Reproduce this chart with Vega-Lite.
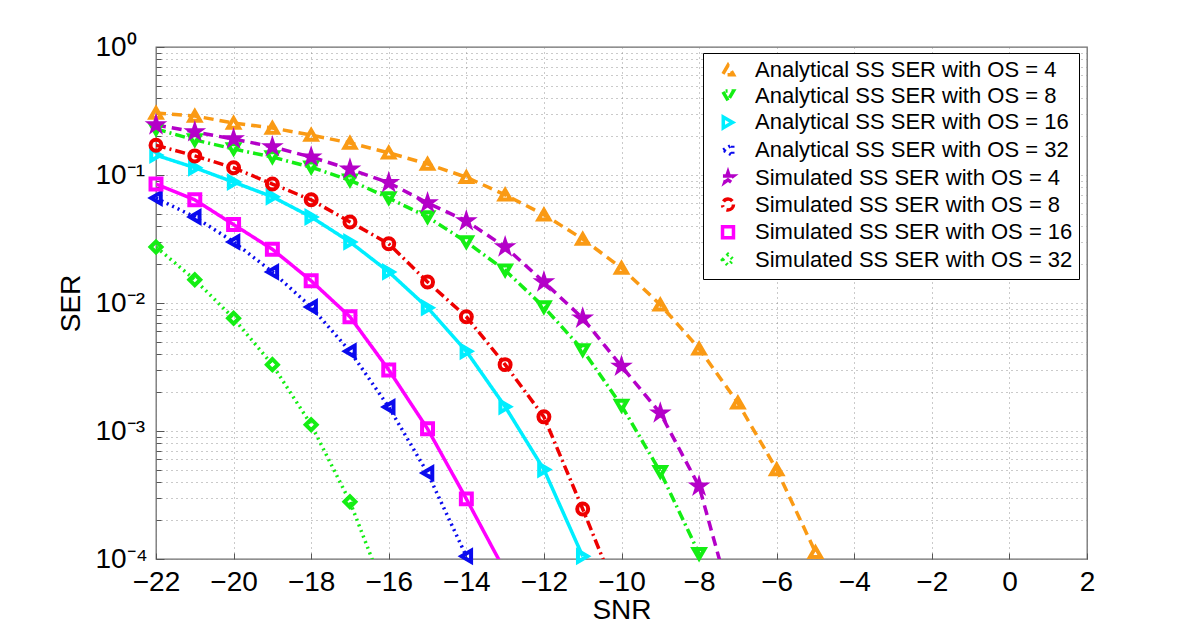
{
  "$schema": "https://vega.github.io/schema/vega-lite/v6.json",
  "width": 931,
  "height": 512,
  "autosize": {"type": "none"},
  "padding": {"left": 156, "top": 47, "right": 113, "bottom": 71},
  "background": "white",
  "config": {
    "font": "Liberation Sans",
    "view": {"stroke": "#6e6e6e", "strokeWidth": 1.3},
    "axis": {
      "labelFont": "Liberation Sans",
      "titleFont": "Liberation Sans",
      "labelColor": "black",
      "titleColor": "black",
      "labelFontSize": 28,
      "titleFontSize": 28,
      "titleFontWeight": "normal",
      "domain": false,
      "grid": true,
      "gridColor": "#8a8a8a",
      "gridDash": [1, 4],
      "gridWidth": 1,
      "gridOpacity": 0.9,
      "tickColor": "#555",
      "labelFlush": false,
      "labelOverlap": false
    }
  },
  "data": {
    "values": [
      {"series": "Analytical SS SER with OS = 4", "snr": -22, "ser": 0.305},
      {"series": "Analytical SS SER with OS = 4", "snr": -21, "ser": 0.289},
      {"series": "Analytical SS SER with OS = 4", "snr": -20, "ser": 0.255},
      {"series": "Analytical SS SER with OS = 4", "snr": -19, "ser": 0.233},
      {"series": "Analytical SS SER with OS = 4", "snr": -18, "ser": 0.205},
      {"series": "Analytical SS SER with OS = 4", "snr": -17, "ser": 0.178},
      {"series": "Analytical SS SER with OS = 4", "snr": -16, "ser": 0.149},
      {"series": "Analytical SS SER with OS = 4", "snr": -15, "ser": 0.122},
      {"series": "Analytical SS SER with OS = 4", "snr": -14, "ser": 0.096},
      {"series": "Analytical SS SER with OS = 4", "snr": -13, "ser": 0.070},
      {"series": "Analytical SS SER with OS = 4", "snr": -12, "ser": 0.049},
      {"series": "Analytical SS SER with OS = 4", "snr": -11, "ser": 0.0316},
      {"series": "Analytical SS SER with OS = 4", "snr": -10, "ser": 0.0188},
      {"series": "Analytical SS SER with OS = 4", "snr": -9, "ser": 0.0097},
      {"series": "Analytical SS SER with OS = 4", "snr": -8, "ser": 0.0044},
      {"series": "Analytical SS SER with OS = 4", "snr": -7, "ser": 0.00166},
      {"series": "Analytical SS SER with OS = 4", "snr": -6, "ser": 0.0005},
      {"series": "Analytical SS SER with OS = 4", "snr": -5, "ser": 0.000113},
      {"series": "Analytical SS SER with OS = 8", "snr": -22, "ser": 0.229},
      {"series": "Analytical SS SER with OS = 8", "snr": -21, "ser": 0.188},
      {"series": "Analytical SS SER with OS = 8", "snr": -20, "ser": 0.160},
      {"series": "Analytical SS SER with OS = 8", "snr": -19, "ser": 0.138},
      {"series": "Analytical SS SER with OS = 8", "snr": -18, "ser": 0.115},
      {"series": "Analytical SS SER with OS = 8", "snr": -17, "ser": 0.091},
      {"series": "Analytical SS SER with OS = 8", "snr": -16, "ser": 0.066},
      {"series": "Analytical SS SER with OS = 8", "snr": -15, "ser": 0.047},
      {"series": "Analytical SS SER with OS = 8", "snr": -14, "ser": 0.030},
      {"series": "Analytical SS SER with OS = 8", "snr": -13, "ser": 0.018},
      {"series": "Analytical SS SER with OS = 8", "snr": -12, "ser": 0.0093},
      {"series": "Analytical SS SER with OS = 8", "snr": -11, "ser": 0.0043},
      {"series": "Analytical SS SER with OS = 8", "snr": -10, "ser": 0.00158},
      {"series": "Analytical SS SER with OS = 8", "snr": -9, "ser": 0.00048},
      {"series": "Analytical SS SER with OS = 8", "snr": -8, "ser": 0.00011},
      {"series": "Analytical SS SER with OS = 16", "snr": -22, "ser": 0.143},
      {"series": "Analytical SS SER with OS = 16", "snr": -21, "ser": 0.114},
      {"series": "Analytical SS SER with OS = 16", "snr": -20, "ser": 0.088},
      {"series": "Analytical SS SER with OS = 16", "snr": -19, "ser": 0.0676},
      {"series": "Analytical SS SER with OS = 16", "snr": -18, "ser": 0.047},
      {"series": "Analytical SS SER with OS = 16", "snr": -17, "ser": 0.030},
      {"series": "Analytical SS SER with OS = 16", "snr": -16, "ser": 0.0175},
      {"series": "Analytical SS SER with OS = 16", "snr": -15, "ser": 0.0092},
      {"series": "Analytical SS SER with OS = 16", "snr": -14, "ser": 0.0042},
      {"series": "Analytical SS SER with OS = 16", "snr": -13, "ser": 0.00155},
      {"series": "Analytical SS SER with OS = 16", "snr": -12, "ser": 0.0005},
      {"series": "Analytical SS SER with OS = 16", "snr": -11, "ser": 0.000105},
      {"series": "Analytical SS SER with OS = 32", "snr": -22, "ser": 0.066},
      {"series": "Analytical SS SER with OS = 32", "snr": -21, "ser": 0.047},
      {"series": "Analytical SS SER with OS = 32", "snr": -20, "ser": 0.030},
      {"series": "Analytical SS SER with OS = 32", "snr": -19, "ser": 0.0175},
      {"series": "Analytical SS SER with OS = 32", "snr": -18, "ser": 0.0093},
      {"series": "Analytical SS SER with OS = 32", "snr": -17, "ser": 0.0042},
      {"series": "Analytical SS SER with OS = 32", "snr": -16, "ser": 0.00154},
      {"series": "Analytical SS SER with OS = 32", "snr": -15, "ser": 0.00047},
      {"series": "Analytical SS SER with OS = 32", "snr": -14, "ser": 0.000105},
      {"series": "Simulated SS SER with OS = 4", "snr": -22, "ser": 0.246},
      {"series": "Simulated SS SER with OS = 4", "snr": -21, "ser": 0.217},
      {"series": "Simulated SS SER with OS = 4", "snr": -20, "ser": 0.191},
      {"series": "Simulated SS SER with OS = 4", "snr": -19, "ser": 0.166},
      {"series": "Simulated SS SER with OS = 4", "snr": -18, "ser": 0.138},
      {"series": "Simulated SS SER with OS = 4", "snr": -17, "ser": 0.111},
      {"series": "Simulated SS SER with OS = 4", "snr": -16, "ser": 0.087},
      {"series": "Simulated SS SER with OS = 4", "snr": -15, "ser": 0.0605},
      {"series": "Simulated SS SER with OS = 4", "snr": -14, "ser": 0.0437},
      {"series": "Simulated SS SER with OS = 4", "snr": -13, "ser": 0.0274},
      {"series": "Simulated SS SER with OS = 4", "snr": -12, "ser": 0.0146},
      {"series": "Simulated SS SER with OS = 4", "snr": -11, "ser": 0.0076},
      {"series": "Simulated SS SER with OS = 4", "snr": -10, "ser": 0.0032},
      {"series": "Simulated SS SER with OS = 4", "snr": -9, "ser": 0.00138},
      {"series": "Simulated SS SER with OS = 4", "snr": -8, "ser": 0.00037},
      {"series": "Simulated SS SER with OS = 4", "snr": -7, "ser": 0.00003},
      {"series": "Simulated SS SER with OS = 8", "snr": -22, "ser": 0.171},
      {"series": "Simulated SS SER with OS = 8", "snr": -21, "ser": 0.141},
      {"series": "Simulated SS SER with OS = 8", "snr": -20, "ser": 0.114},
      {"series": "Simulated SS SER with OS = 8", "snr": -19, "ser": 0.085},
      {"series": "Simulated SS SER with OS = 8", "snr": -18, "ser": 0.064},
      {"series": "Simulated SS SER with OS = 8", "snr": -17, "ser": 0.043},
      {"series": "Simulated SS SER with OS = 8", "snr": -16, "ser": 0.029},
      {"series": "Simulated SS SER with OS = 8", "snr": -15, "ser": 0.0146},
      {"series": "Simulated SS SER with OS = 8", "snr": -14, "ser": 0.0078},
      {"series": "Simulated SS SER with OS = 8", "snr": -13, "ser": 0.0033},
      {"series": "Simulated SS SER with OS = 8", "snr": -12, "ser": 0.00129},
      {"series": "Simulated SS SER with OS = 8", "snr": -11, "ser": 0.000246},
      {"series": "Simulated SS SER with OS = 8", "snr": -10, "ser": 0.000044},
      {"series": "Simulated SS SER with OS = 16", "snr": -22, "ser": 0.085},
      {"series": "Simulated SS SER with OS = 16", "snr": -21, "ser": 0.064},
      {"series": "Simulated SS SER with OS = 16", "snr": -20, "ser": 0.041},
      {"series": "Simulated SS SER with OS = 16", "snr": -19, "ser": 0.0263},
      {"series": "Simulated SS SER with OS = 16", "snr": -18, "ser": 0.0149},
      {"series": "Simulated SS SER with OS = 16", "snr": -17, "ser": 0.0078},
      {"series": "Simulated SS SER with OS = 16", "snr": -16, "ser": 0.0030},
      {"series": "Simulated SS SER with OS = 16", "snr": -15, "ser": 0.00104},
      {"series": "Simulated SS SER with OS = 16", "snr": -14, "ser": 0.000295},
      {"series": "Simulated SS SER with OS = 16", "snr": -13, "ser": 0.00008},
      {"series": "Simulated SS SER with OS = 32", "snr": -22, "ser": 0.0274},
      {"series": "Simulated SS SER with OS = 32", "snr": -21, "ser": 0.0152},
      {"series": "Simulated SS SER with OS = 32", "snr": -20, "ser": 0.0076},
      {"series": "Simulated SS SER with OS = 32", "snr": -19, "ser": 0.0033},
      {"series": "Simulated SS SER with OS = 32", "snr": -18, "ser": 0.00112},
      {"series": "Simulated SS SER with OS = 32", "snr": -17, "ser": 0.00028},
      {"series": "Simulated SS SER with OS = 32", "snr": -16, "ser": 0.000046}
    ]
  },
  "encoding": {
    "x": {
      "field": "snr",
      "type": "quantitative",
      "scale": {"domain": [-22, 2], "nice": false, "zero": false},
      "axis": {
        "title": "SNR",
        "values": [-22, -20, -18, -16, -14, -12, -10, -8, -6, -4, -2, 0, 2],
        "format": "d",
        "tickSize": -6,
        "labelPadding": 15,
        "titlePadding": 0
      }
    },
    "y": {
      "field": "ser",
      "type": "quantitative",
      "scale": {"type": "log", "domain": [0.0001, 1], "nice": false},
      "axis": {
        "title": "SER",
        "values": [0.0001, 0.0002, 0.0003, 0.0004, 0.0005, 0.0006, 0.0007, 0.0008, 0.0009, 0.001, 0.002, 0.003, 0.004, 0.005, 0.006, 0.007, 0.008, 0.009, 0.01, 0.02, 0.03, 0.04, 0.05, 0.06, 0.07, 0.08, 0.09, 0.1, 0.2, 0.3, 0.4, 0.5, 0.6, 0.7, 0.8, 0.9, 1],
        "labelExpr": "datum.value == 1 ? '10⁰' : datum.value == 0.1 ? '10⁻¹' : datum.value == 0.01 ? '10⁻²' : datum.value == 0.001 ? '10⁻³' : datum.value == 0.0001 ? '10⁻⁴' : ''",
        "labelAlign": "left",
        "labelBaseline": "middle",
        "tickSize": {"condition": {"test": "datum.value == 1 || datum.value == 0.1 || datum.value == 0.01 || datum.value == 0.001 || datum.value == 0.0001", "value": -8}, "value": -5},
        "labelPadding": 69,
        "titlePadding": 7
      }
    }
  },
  "layer": [
    {
      "mark": {"type": "line", "clip": true},
      "encoding": {
        "stroke": {
          "field": "series",
          "type": "nominal",
          "scale": {
            "domain": ["Analytical SS SER with OS = 4", "Analytical SS SER with OS = 8", "Analytical SS SER with OS = 16", "Analytical SS SER with OS = 32", "Simulated SS SER with OS = 4", "Simulated SS SER with OS = 8", "Simulated SS SER with OS = 16", "Simulated SS SER with OS = 32"],
            "range": ["#FA9A14", "#14EE14", "#00EEFF", "#0A0AEE", "#B400C8", "#EE0000", "#FF00FF", "#14EE14"]
          },
          "legend": {
            "title": null,
            "orient": "none",
            "legendX": 547,
            "legendY": 6,
            "strokeColor": "black",
            "fillColor": "white",
            "padding": 6,
            "rowPadding": 1.7,
            "labelFont": "Liberation Sans",
            "labelFontSize": 22,
            "labelColor": "black",
            "labelLimit": 500,
            "symbolSize": 169,
            "symbolStrokeWidth": 2.5,
            "symbolDash": [1, 0],
            "symbolOffset": 8,
            "labelOffset": 16,
            "encode": {
              "symbols": {
                "update": {
                  "shape": {"signal": "['M-2.9,0L-1.2,0M1.2,0L2.9,0M0,-0.95L1,0.8L-1,0.8Z','M-2.9,0L-2.6,0M-2.2,0L-1.1,0M1.1,0L2.2,0M2.6,0L2.9,0M0,0.95L1,-0.8L-1,-0.8Z','M-2.9,0L-0.9,0M0.9,0L2.9,0M0.95,0L-0.8,1L-0.8,-1Z','M-2.9,0L-2.7,0M-2.3,0L-2.1,0M-1.7,0L-1.5,0M1.5,0L1.7,0M2.1,0L2.3,0M2.7,0L2.9,0M-0.95,0L0.8,-1L0.8,1Z','M-2.9,0L-1.2,0M1.2,0L2.9,0M0,-1L0.2245,-0.309L0.951,-0.309L0.363,0.118L0.588,0.809L0,0.382L-0.588,0.809L-0.363,0.118L-0.951,-0.309L-0.2245,-0.309Z','M-2.9,0L-2.6,0M-2.2,0L-1.1,0M1.1,0L2.2,0M2.6,0L2.9,0M0.8,0L0.693,0.4L0.4,0.693L0,0.8L-0.4,0.693L-0.693,0.4L-0.8,0L-0.693,-0.4L-0.4,-0.693L0,-0.8L0.4,-0.693L0.693,-0.4Z','M-2.9,0L-0.8,0M0.8,0L2.9,0M-0.8,-0.8L0.8,-0.8L0.8,0.8L-0.8,0.8Z','M-2.9,0L-2.7,0M-2.3,0L-2.1,0M-1.7,0L-1.5,0M1.5,0L1.7,0M2.1,0L2.3,0M2.7,0L2.9,0M0,-1L0.8,0L0,1L-0.8,0Z'][datum.index]"},
                  "stroke": {"signal": "['#FA9A14','#14EE14','#00EEFF','#0A0AEE','#B400C8','#EE0000','#FF00FF','#14EE14'][datum.index]"},
                  "fill": {"value": "transparent"},
                  "strokeDash": {"value": [1, 0]},
                  "strokeWidth": {"value": 3},
                  "opacity": {"value": 1},
                  "size": {"value": 169}
                }
              }
            }
          }
        },
        "strokeDash": {
          "field": "series",
          "type": "nominal",
          "scale": {
            "domain": ["Analytical SS SER with OS = 4", "Analytical SS SER with OS = 8", "Analytical SS SER with OS = 16", "Analytical SS SER with OS = 32", "Simulated SS SER with OS = 4", "Simulated SS SER with OS = 8", "Simulated SS SER with OS = 16", "Simulated SS SER with OS = 32"],
            "range": [[10, 6], [10, 4, 2, 4], [1, 0], [2, 4], [10, 6], [10, 4, 2, 4], [1, 0], [2, 4]]
          },
          "legend": null
        },
        "strokeWidth": {
          "field": "series",
          "type": "nominal",
          "scale": {
            "domain": ["Analytical SS SER with OS = 4", "Analytical SS SER with OS = 8", "Analytical SS SER with OS = 16", "Analytical SS SER with OS = 32", "Simulated SS SER with OS = 4", "Simulated SS SER with OS = 8", "Simulated SS SER with OS = 16", "Simulated SS SER with OS = 32"],
            "range": [3.5, 3.5, 3.5, 2, 3.5, 3.5, 3.5, 2]
          },
          "legend": null
        }
      }
    },
    {
      "transform": [{"filter": "datum.ser >= 0.0001"}],
      "mark": {"type": "point", "filled": false, "strokeWidth": 4, "opacity": 1, "clip": false},
      "encoding": {
        "stroke": {"field": "series", "type": "nominal", "legend": null},
        "shape": {
          "field": "series",
          "type": "nominal",
          "scale": {
            "domain": ["Analytical SS SER with OS = 4", "Analytical SS SER with OS = 8", "Analytical SS SER with OS = 16", "Analytical SS SER with OS = 32", "Simulated SS SER with OS = 4", "Simulated SS SER with OS = 8", "Simulated SS SER with OS = 16", "Simulated SS SER with OS = 32"],
            "range": ["triangle-up", "triangle-down", "triangle-right", "triangle-left", "M0,-1L0.2245,-0.309L0.951,-0.309L0.363,0.118L0.588,0.809L0,0.382L-0.588,0.809L-0.363,0.118L-0.951,-0.309L-0.2245,-0.309Z", "circle", "square", "diamond"]
          },
          "legend": null
        },
        "size": {
          "field": "series",
          "type": "nominal",
          "scale": {
            "domain": ["Analytical SS SER with OS = 4", "Analytical SS SER with OS = 8", "Analytical SS SER with OS = 16", "Analytical SS SER with OS = 32", "Simulated SS SER with OS = 4", "Simulated SS SER with OS = 8", "Simulated SS SER with OS = 16", "Simulated SS SER with OS = 32"],
            "range": [120, 120, 120, 120, 200, 60, 50, 90]
          },
          "legend": null
        }
      }
    }
  ]
}
